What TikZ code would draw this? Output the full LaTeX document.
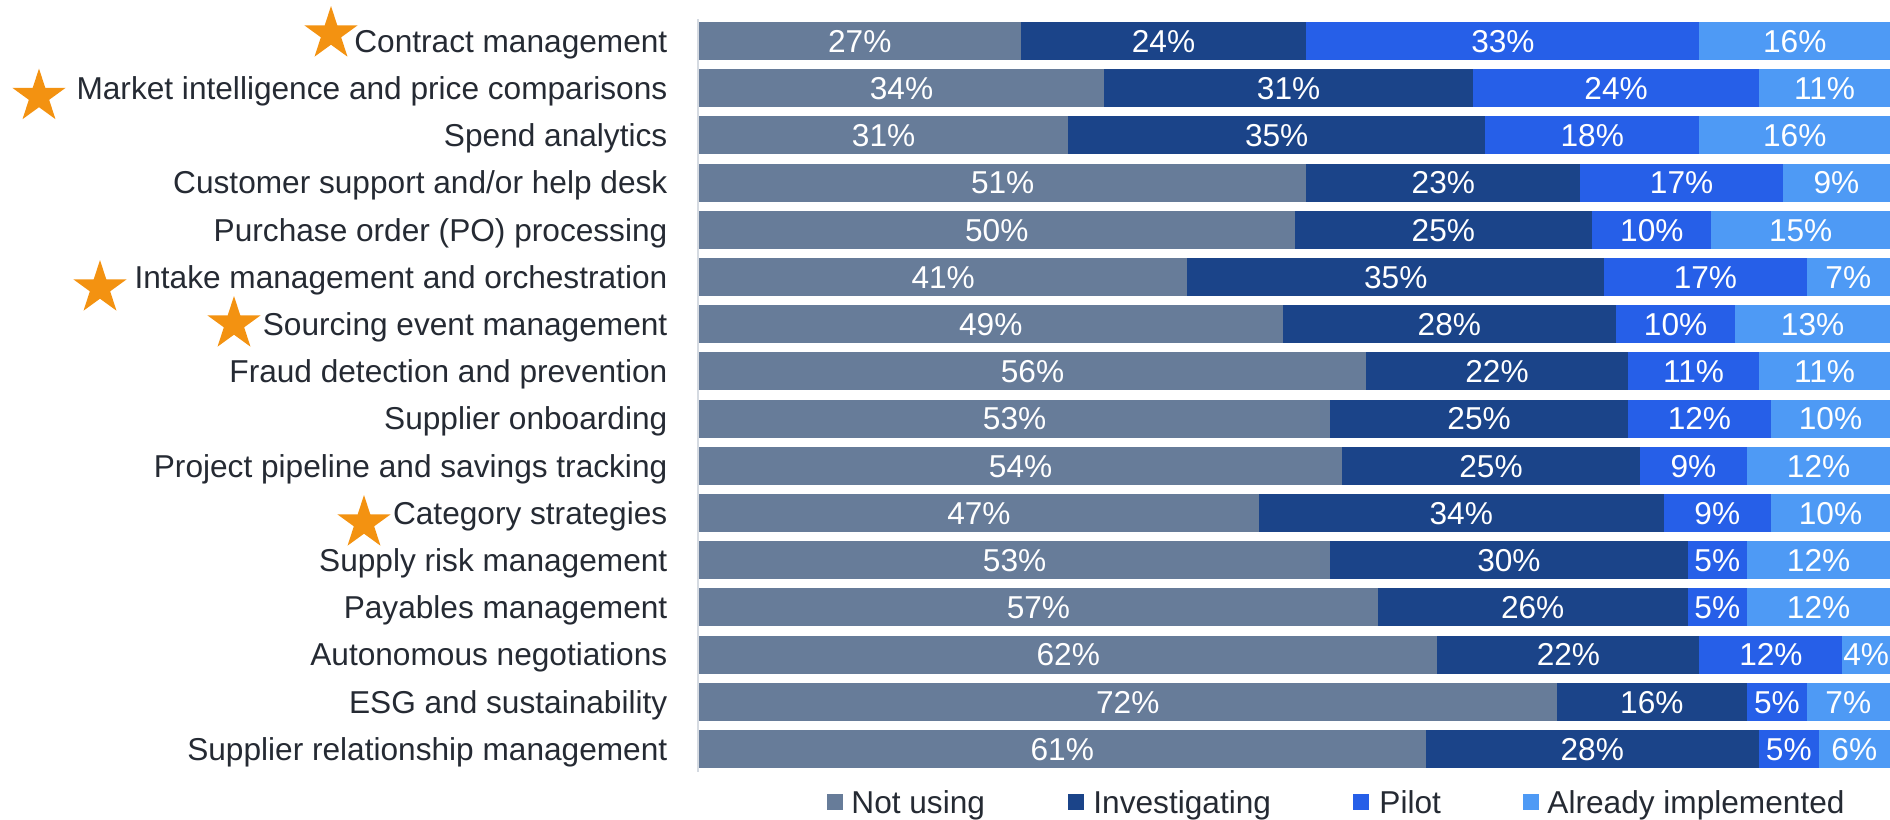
\documentclass[tikz,border=0pt]{standalone}
\usepackage{fontspec}
\setmainfont{Liberation Sans}
\usepackage{xcolor}
\usetikzlibrary{shapes.geometric}
\usetikzlibrary{positioning}

\definecolor{notusing}{RGB}{103,124,153}
\definecolor{investig}{RGB}{27,68,137}
\definecolor{pilotblue}{RGB}{38,95,232}
\definecolor{implblue}{RGB}{78,154,245}
\definecolor{starorange}{RGB}{243,146,17}
\definecolor{labeltext}{RGB}{37,42,51}
\definecolor{axisgray}{RGB}{213,218,225}

\begin{document}
\begin{tikzpicture}[x=0.1mm, y=-0.1mm, font=\fontsize{9pt}{10.8pt}\selectfont,
    catlabel/.style={anchor=east, inner sep=0pt, text=labeltext, text height=6.45pt, text depth=0pt},
    pct/.style={inner sep=0pt, text=white, text height=6.45pt, text depth=0pt},
    orgstar/.style={star, star points=5, star point ratio=2.618, fill=starorange, draw=none, minimum size=5.6mm, inner sep=0pt, outer sep=0pt},
    legsq/.style={minimum size=1.6mm, inner sep=0pt},
    legtext/.style={inner sep=0pt, text=labeltext, text height=6.45pt, text depth=0pt}]
    \useasboundingbox (0,0) rectangle (1890,819);
    % Stacked bars, one row per use case
    \foreach \lbl/\a/\b/\c/\d [count=\r] in {
        Contract management/27/24/33/16,
        Market intelligence and price comparisons/34/31/24/11,
        Spend analytics/31/35/18/16,
        {Customer support and/or help desk}/51/23/17/9,
        Purchase order (PO) processing/50/25/10/15,
        Intake management and orchestration/41/35/17/7,
        Sourcing event management/49/28/10/13,
        Fraud detection and prevention/56/22/11/11,
        Supplier onboarding/53/25/12/10,
        Project pipeline and savings tracking/54/25/9/12,
        Category strategies/47/34/9/10,
        Supply risk management/53/30/5/12,
        Payables management/57/26/5/12,
        Autonomous negotiations/62/22/12/4,
        ESG and sustainability/72/16/5/7,
        Supplier relationship management/61/28/5/6} {
        \pgfmathsetmacro{\yy}{41+47.2*(\r-1)}
        \pgfmathsetmacro{\ytop}{\yy-19}
        \pgfmathsetmacro{\ybot}{\yy+19}
        \pgfmathsetmacro{\xa}{699+11.91*\a}
        \pgfmathsetmacro{\xb}{\xa+11.91*\b}
        \pgfmathsetmacro{\xc}{\xb+11.91*\c}
        \node[catlabel] (lbl\r) at (668,\yy) {\lbl};
        \fill[notusing] (699,\ytop) rectangle (\xa,\ybot);
        \fill[investig] (\xa,\ytop) rectangle (\xb,\ybot);
        \fill[pilotblue] (\xb,\ytop) rectangle (\xc,\ybot);
        \fill[implblue] (\xc,\ytop) rectangle (1890,\ybot);
        \node[pct] (n\r) at ({(699+\xa)/2},\yy) {\a\%};
        \node[pct] (i\r) at ({(\xa+\xb)/2},\yy) {\b\%};
        \node[pct] (p\r) at ({(\xb+\xc)/2},\yy) {\c\%};
        \node[pct] (d\r) at ({(\xc+1890)/2},\yy) {\d\%};
    }

    \coordinate (axtop) at (697.5,19);
    \coordinate (axbot) at (697.5,772);
    \draw[axisgray, line width=0.2mm] (axtop) -- (axbot);

    \node[orgstar] (star1) at (331,34) {};
    \node[orgstar] (star2) at (39,96.5) {};
    \node[orgstar] (star6) at (100,288) {};
    \node[orgstar] (star7) at (234,324) {};
    \node[orgstar] (star11) at (364,523) {};

    \node[legsq, fill=notusing] (sq1) at (835,802) {};
    \node[legtext, right=0.7mm of sq1] (leg1) {Not using};
    \node[legsq, fill=investig] (sq2) at (1076,802) {};
    \node[legtext, right=0.8mm of sq2] (leg2) {Investigating};
    \node[legsq, fill=pilotblue] (sq3) at (1361,802) {};
    \node[legtext, right=0.9mm of sq3] (leg3) {Pilot};
    \node[legsq, fill=implblue] (sq4) at (1531,802) {};
    \node[legtext, right=0.7mm of sq4] (leg4) {Already implemented};
\end{tikzpicture}
\end{document}
